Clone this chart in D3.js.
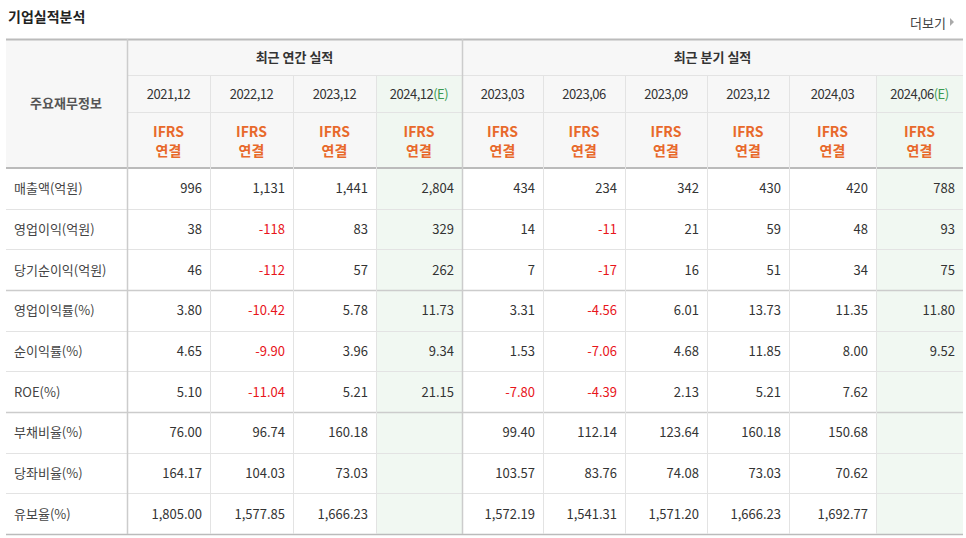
<!DOCTYPE html><html><head><meta charset="utf-8"><script src="https://cdn.jsdelivr.net/npm/d3@7"></script>
<style>body{margin:0;background:#fff}text{font-family:"Noto Sans CJK KR","Noto Sans",sans-serif}</style></head><body><svg id="c" width="966" height="538"></svg><script>
const periods=["2021,12","2022,12","2023,12","2024,12","2023,03","2023,06","2023,09","2023,12","2024,03","2024,06"];
const estimate=[false,false,false,true,false,false,false,false,false,true];
const rowLabels=["매출액(억원)","영업이익(억원)","당기순이익(억원)","영업이익률(%)","순이익률(%)","ROE(%)","부채비율(%)","당좌비율(%)","유보율(%)"];
const values=[
["996","1,131","1,441","2,804","434","234","342","430","420","788"],
["38","-118","83","329","14","-11","21","59","48","93"],
["46","-112","57","262","7","-17","16","51","34","75"],
["3.80","-10.42","5.78","11.73","3.31","-4.56","6.01","13.73","11.35","11.80"],
["4.65","-9.90","3.96","9.34","1.53","-7.06","4.68","11.85","8.00","9.52"],
["5.10","-11.04","5.21","21.15","-7.80","-4.39","2.13","5.21","7.62",""],
["76.00","96.74","160.18","","99.40","112.14","123.64","160.18","150.68",""],
["164.17","104.03","73.03","","103.57","83.76","74.08","73.03","70.62",""],
["1,805.00","1,577.85","1,666.23","","1,572.19","1,541.31","1,571.20","1,666.23","1,692.77",""]];
const groups=["최근 연간 실적","최근 분기 실적"];
// layout
const colEdges=[6,127,210,293,376,462,543,625,707,789,876,963];
const x=d3.scaleLinear().domain([0,colEdges.length-1]).range([0,1]);
const y=d3.scaleLinear().domain([0,9]).range([168,534]);
const svg=d3.select("#c");
svg.append("text").attr("x",8).attr("y",22).attr("font-size",14).attr("font-weight","bold").attr("fill","#222").text("기업실적분석");
svg.append("text").attr("x",946).attr("y",28).attr("font-size",13).attr("fill","#444").attr("text-anchor","end").text("더보기");
svg.append("path").attr("d","M950,18 L954,22 L950,26Z").attr("fill","#aaa");
// header bg
svg.append("rect").attr("x",6).attr("y",39).attr("width",957).attr("height",129).attr("fill","#f7f7f7");
estimate.forEach((e,i)=>{if(e){svg.append("rect").attr("x",colEdges[i+1]).attr("y",75).attr("width",colEdges[i+2]-colEdges[i+1]).attr("height",534-75).attr("fill","#eef6ef").attr("opacity",0.8);}});
// white data bg under non-estimate? data area white by default; estimate rect covers header part too
svg.append("rect").attr("x",6).attr("y",168).attr("width",957).attr("height",366).attr("fill","#fff").lower();
const lc="#e3e3e3";
function line(x1,y1,x2,y2,c,w){svg.append("line").attr("x1",x1).attr("y1",y1).attr("x2",x2).attr("y2",y2).attr("stroke",c||lc).attr("stroke-width",w||1);}
line(6,39.5,963,39.5,"#bbb",2);
line(127,75.5,963,75.5);line(127,112.5,963,112.5);
d3.range(1,9).forEach(i=>{const yy=Math.round(y(i))+.5;line(6,yy,963,yy,(i==3||i==6)?"#ccc":lc,(i==3||i==6)?1.5:1);});
line(6,168,963,168,"#bbb",2);
line(6,534.5,963,534.5,"#bbb",1.5);
colEdges.slice(1,-1).forEach((cx,i)=>{const main=(i==0||i==4);line(cx+.5,main?39:75,cx+.5,534,main?"#ccc":lc,main?1.5:1);});
// group titles
svg.append("text").attr("x",(127+462)/2).attr("y",62).attr("text-anchor","middle").attr("font-size",13).attr("font-weight","bold").attr("fill","#333").text(groups[0]);
svg.append("text").attr("x",(462+963)/2).attr("y",62).attr("text-anchor","middle").attr("font-size",13).attr("font-weight","bold").attr("fill","#333").text(groups[1]);
svg.append("text").attr("x",66).attr("y",108).attr("text-anchor","middle").attr("font-size",13).attr("font-weight","bold").attr("fill","#555").text("주요재무정보");
periods.forEach((p,i)=>{const cx=(colEdges[i+1]+colEdges[i+2])/2;
 const t=svg.append("text").attr("x",cx).attr("y",99).attr("text-anchor","middle").attr("font-size",13).attr("fill","#333").attr("letter-spacing",-0.5).text(p);
 if(estimate[i]) t.append("tspan").attr("fill","#3a9a50").text("(E)");
 svg.append("text").attr("x",cx).attr("y",137).attr("text-anchor","middle").attr("font-size",14).attr("font-weight","bold").attr("fill","#e8692b").text("IFRS");
 svg.append("text").attr("x",cx).attr("y",156).attr("text-anchor","middle").attr("font-size",14).attr("font-weight","bold").attr("fill","#e8692b").text("연결");
});
rowLabels.forEach((r,j)=>{const cy=(y(j)+y(j+1))/2+5;
 svg.append("text").attr("x",14).attr("y",cy).attr("font-size",13).attr("fill","#444").text(r);
 values[j].forEach((v,i)=>{svg.append("text").attr("x",colEdges[i+2]-8).attr("y",cy).attr("text-anchor","end").attr("font-size",13).attr("fill",v.startsWith("-")?"#e8151b":"#333").text(v);});
});
</script></body></html>
